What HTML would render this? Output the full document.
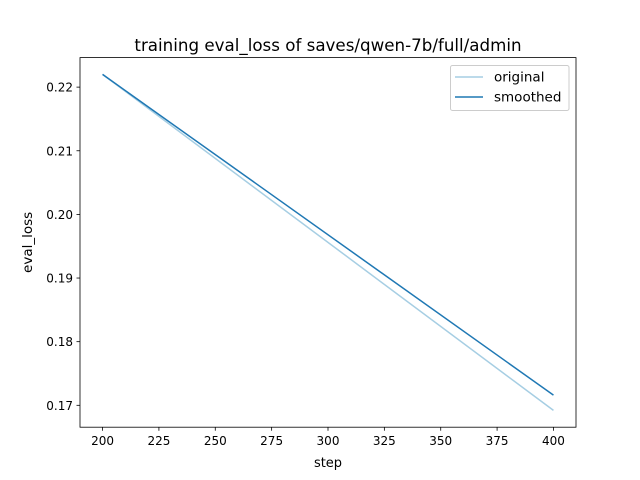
<!DOCTYPE html>
<html><head><meta charset="utf-8"><style>
body{margin:0;background:#fff;}
svg{display:block;font-family:"DejaVu Sans","Liberation Sans",sans-serif;}
</style></head><body>
<svg id="chart" width="640" height="480" viewBox="0 0 640 480">
<rect x="0" y="0" width="640" height="480" fill="#fff"/>
<text x="328" y="51" font-size="16.7" text-anchor="middle">training eval_loss of saves/qwen-7b/full/admin</text>
<g id="ticks"></g>
<g id="lines"></g>
<rect x="80" y="57.6" width="496" height="369.6" fill="none" stroke="#000" stroke-width="0.8"/>
<text x="328" y="467" font-size="13" text-anchor="middle">step</text>
<text transform="translate(32,242.4) rotate(-90)" font-size="13.5" text-anchor="middle">eval_loss</text>
<g>
<rect x="450.5" y="65.5" width="118.5" height="45" rx="2" fill="#fff" stroke="#ccc" stroke-width="1"/>
<line x1="455" y1="77" x2="483" y2="77" stroke="#a6cee3" stroke-width="1.5"/>
<text x="494" y="81.5" font-size="13.5">original</text>
<line x1="455" y1="97" x2="483" y2="97" stroke="#1f78b4" stroke-width="1.5"/>
<text x="494" y="101.5" font-size="13.5">smoothed</text>
</g>
</svg>
<script>
const steps = [200, 400];
const original = [0.2220, 0.1692];
const smoothed = [0.2220, 0.1716];
const xTicks = [200, 225, 250, 275, 300, 325, 350, 375, 400];
const yTicks = [0.17, 0.18, 0.19, 0.20, 0.21, 0.22];
const yTickLabels = ["0.17", "0.18", "0.19", "0.20", "0.21", "0.22"];

const L=80,R=576,T=57.6,B=427.2;
const xmin=190,xmax=410;
const all=original.concat(smoothed);
const dmin=Math.min(...all),dmax=Math.max(...all),m=(dmax-dmin)*0.05;
const ymin=dmin-m,ymax=dmax+m;
const sx=v=>L+(v-xmin)/(xmax-xmin)*(R-L);
const sy=v=>B-(v-ymin)/(ymax-ymin)*(B-T);
const NS="http://www.w3.org/2000/svg";
const tg=document.getElementById('ticks'), lg=document.getElementById('lines');
function mk(tag,attrs,parent){const e=document.createElementNS(NS,tag);for(const k in attrs)e.setAttribute(k,attrs[k]);parent.appendChild(e);return e;}
xTicks.forEach(v=>{
  const x=sx(v);
  const t=mk('line',{x1:x,x2:x,y1:B,y2:B+3.5,stroke:'#000','stroke-width':0.8},tg);
  
  
  const s=mk('text',{x:x,y:B+18,'font-size':12,'text-anchor':'middle'},tg);
  s.textContent=v;
  
  
});
yTicks.forEach((v,i)=>{
  const y=sy(v);
  const t=mk('line',{x1:L-3.5,x2:L,y1:y,y2:y,stroke:'#000','stroke-width':0.8},tg);
  
  
  const s=mk('text',{x:L-7,y:y+4.5,'font-size':12,'text-anchor':'end'},tg);
  s.textContent=yTickLabels[i];
  
  
});
function pts(arr){return steps.map((s,i)=>sx(s)+','+sy(arr[i])).join(' ');}
const p1=mk('polyline',{points:pts(original),fill:'none',stroke:'#a6cee3','stroke-width':1.5},lg);


const p2=mk('polyline',{points:pts(smoothed),fill:'none',stroke:'#1f78b4','stroke-width':1.5},lg);


</script>
</body></html>
